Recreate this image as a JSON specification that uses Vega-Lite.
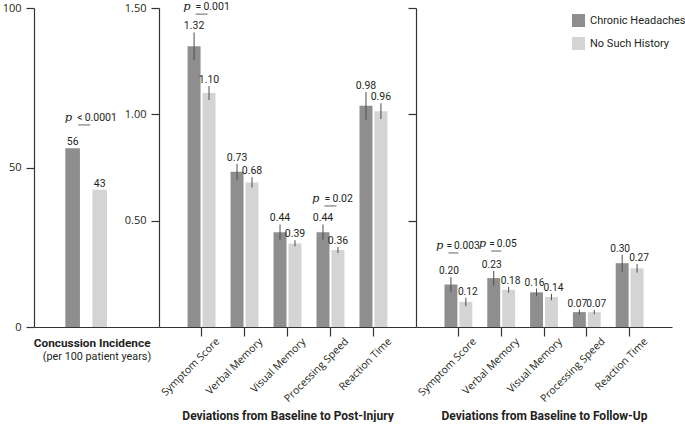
{
  "$schema": "https://vega.github.io/schema/vega-lite/v6.json",
  "bounds": "flush",
  "spacing": 0,
  "padding": {"left": 2, "top": 1, "right": 0, "bottom": 0},
  "background": "white",
  "datasets": {
    "bars": [
      {"panel": "inc", "category": "Concussion Incidence", "group": "Chronic Headaches", "value": 56, "lo": 56, "hi": 56, "label": "56"},
      {"panel": "inc", "category": "Concussion Incidence", "group": "No Such History", "value": 43, "lo": 43, "hi": 43, "label": "43"},
      {"panel": "post", "category": "Symptom Score", "group": "Chronic Headaches", "value": 1.32, "lo": 1.255, "hi": 1.385, "label": "1.32"},
      {"panel": "post", "category": "Symptom Score", "group": "No Such History", "value": 1.10, "lo": 1.067, "hi": 1.133, "label": "1.10"},
      {"panel": "post", "category": "Verbal Memory", "group": "Chronic Headaches", "value": 0.73, "lo": 0.693, "hi": 0.767, "label": "0.73"},
      {"panel": "post", "category": "Verbal Memory", "group": "No Such History", "value": 0.68, "lo": 0.656, "hi": 0.704, "label": "0.68"},
      {"panel": "post", "category": "Visual Memory", "group": "Chronic Headaches", "value": 0.445, "lo": 0.41, "hi": 0.482, "label": "0.44"},
      {"panel": "post", "category": "Visual Memory", "group": "No Such History", "value": 0.393, "lo": 0.379, "hi": 0.408, "label": "0.39"},
      {"panel": "post", "category": "Processing Speed", "group": "Chronic Headaches", "value": 0.445, "lo": 0.41, "hi": 0.482, "label": "0.44"},
      {"panel": "post", "category": "Processing Speed", "group": "No Such History", "value": 0.362, "lo": 0.348, "hi": 0.376, "label": "0.36"},
      {"panel": "post", "category": "Reaction Time", "group": "Chronic Headaches", "value": 1.04, "lo": 0.975, "hi": 1.105, "label": "0.98"},
      {"panel": "post", "category": "Reaction Time", "group": "No Such History", "value": 1.015, "lo": 0.978, "hi": 1.052, "label": "0.96"},
      {"panel": "follow", "category": "Symptom Score", "group": "Chronic Headaches", "value": 0.20, "lo": 0.165, "hi": 0.235, "label": "0.20"},
      {"panel": "follow", "category": "Symptom Score", "group": "No Such History", "value": 0.118, "lo": 0.098, "hi": 0.138, "label": "0.12"},
      {"panel": "follow", "category": "Verbal Memory", "group": "Chronic Headaches", "value": 0.23, "lo": 0.195, "hi": 0.265, "label": "0.23"},
      {"panel": "follow", "category": "Verbal Memory", "group": "No Such History", "value": 0.175, "lo": 0.161, "hi": 0.189, "label": "0.18"},
      {"panel": "follow", "category": "Visual Memory", "group": "Chronic Headaches", "value": 0.163, "lo": 0.145, "hi": 0.181, "label": "0.16"},
      {"panel": "follow", "category": "Visual Memory", "group": "No Such History", "value": 0.141, "lo": 0.126, "hi": 0.156, "label": "0.14"},
      {"panel": "follow", "category": "Processing Speed", "group": "Chronic Headaches", "value": 0.07, "lo": 0.058, "hi": 0.082, "label": "0.07"},
      {"panel": "follow", "category": "Processing Speed", "group": "No Such History", "value": 0.07, "lo": 0.06, "hi": 0.08, "label": "0.07"},
      {"panel": "follow", "category": "Reaction Time", "group": "Chronic Headaches", "value": 0.30, "lo": 0.26, "hi": 0.34, "label": "0.30"},
      {"panel": "follow", "category": "Reaction Time", "group": "No Such History", "value": 0.276, "lo": 0.256, "hi": 0.296, "label": "0.27"}
    ],
    "pvals": [
      {"panel": "inc", "category": "Concussion Incidence", "rest": "<\u20090.0001", "y": 64.6},
      {"panel": "post", "category": "Symptom Score", "rest": "=\u20090.001", "y": 1.49},
      {"panel": "post", "category": "Processing Speed", "rest": "=\u20090.02", "y": 0.588},
      {"panel": "follow", "category": "Symptom Score", "rest": "=\u20090.003", "y": 0.367},
      {"panel": "follow", "category": "Verbal Memory", "rest": "=\u20090.05", "y": 0.376}
    ]
  },
  "hconcat": [
    {
      "width": 125,
      "height": 319,
      "layer": [
        {
          "data": {"name": "bars"},
          "transform": [{"filter": "datum.panel === 'inc'"}],
          "mark": {"type": "bar"},
          "encoding": {
            "x": {"field": "category", "type": "nominal", "scale": {"paddingInner": 0, "paddingOuter": 1.0625, "align": 0.376},
                  "axis": {"title": "(per 100 patient years)", "ticks": false, "labelAngle": 0, "labelFont": "Roboto", "labelFontWeight": "bold", "labelFontSize": 11.8, "labelPadding": 10, "labelOffset": 6, "titleFont": "Roboto", "titleFontWeight": "normal", "titleFontSize": 10.8, "titlePadding": 2}},
            "xOffset": {"field": "group", "type": "nominal", "scale": {"paddingInner": 0.46, "paddingOuter": 0}},
            "y": {"field": "value", "type": "quantitative", "scale": {"domain": [0, 100], "nice": false},
                  "axis": {"title": null, "values": [0, 50, 100], "tickSize": 8, "labelPadding": 5}},
            "color": {"field": "group", "type": "nominal", "scale": {"domain": ["Chronic Headaches", "No Such History"], "range": ["#8e8e8e", "#d4d4d4"]}, "legend": null}
          }
        },
        {
          "data": {"name": "bars"},
          "transform": [{"filter": "datum.panel === 'inc'"}],
          "mark": {"type": "text", "baseline": "alphabetic", "dy": -3, "fontSize": 10.5},
          "encoding": {
            "x": {"field": "category", "type": "nominal"},
            "xOffset": {"field": "group", "type": "nominal"},
            "y": {"field": "hi", "type": "quantitative"},
            "text": {"field": "label"}
          }
        },
        {
          "data": {"name": "pvals"},
          "transform": [{"filter": "datum.panel === 'inc'"}],
          "layer": [
            {"mark": {"type": "text", "text": "p", "font": "DejaVu Serif", "fontStyle": "italic", "fontSize": 11.5, "align": "right", "baseline": "alphabetic", "dx": -14},
             "encoding": {"x": {"field": "category", "type": "nominal"}, "y": {"field": "y", "type": "quantitative"}}},
            {"mark": {"type": "text", "align": "left", "baseline": "alphabetic", "dx": -9, "fontSize": 10.5},
             "encoding": {"x": {"field": "category", "type": "nominal"}, "y": {"field": "y", "type": "quantitative"}, "text": {"field": "rest"}}},
            {"mark": {"type": "tick", "size": 12, "thickness": 1, "color": "#231f20", "yOffset": 4, "xOffset": -2},
             "encoding": {"x": {"field": "category", "type": "nominal"}, "y": {"field": "y", "type": "quantitative"}}}
          ]
        }
      ]
    },
    {
      "width": 257,
      "height": 319,
      "layer": [
        {
          "data": {"name": "bars"},
          "transform": [{"filter": "datum.panel === 'post'"}],
          "mark": {"type": "bar"},
          "encoding": {
            "x": {"field": "category", "type": "nominal", "sort": ["Symptom Score", "Verbal Memory", "Visual Memory", "Processing Speed", "Reaction Time"],
                  "scale": {"paddingInner": 0.35, "paddingOuter": 0.665},
                  "axis": {"title": "Deviations from Baseline to Post-Injury", "labelAngle": -45, "labelBaseline": "top", "labelAlign": "right", "labelOffset": 13, "labelPadding": 0, "tickSize": 9, "labelFontSize": 10.5, "titleFont": "Roboto", "titleFontWeight": "bold", "titleFontSize": 12, "titlePadding": 6}},
            "xOffset": {"field": "group", "type": "nominal", "scale": {"paddingInner": 0.133, "paddingOuter": 0}},
            "y": {"field": "value", "type": "quantitative", "scale": {"domain": [0, 1.5], "nice": false},
                  "axis": {"title": null, "values": [0.5, 1, 1.5], "format": ".2f", "tickSize": 8, "labelPadding": 5}},
            "color": {"field": "group", "type": "nominal", "scale": {"domain": ["Chronic Headaches", "No Such History"], "range": ["#8e8e8e", "#d4d4d4"]}, "legend": null}
          }
        },
        {
          "data": {"name": "bars"},
          "transform": [{"filter": "datum.panel === 'post'"}],
          "mark": {"type": "rule", "color": "#4d4d4d", "strokeWidth": 1},
          "encoding": {
            "x": {"field": "category", "type": "nominal", "sort": ["Symptom Score", "Verbal Memory", "Visual Memory", "Processing Speed", "Reaction Time"]},
            "xOffset": {"field": "group", "type": "nominal"},
            "y": {"field": "lo", "type": "quantitative"},
            "y2": {"field": "hi"}
          }
        },
        {
          "data": {"name": "bars"},
          "transform": [{"filter": "datum.panel === 'post'"}],
          "mark": {"type": "text", "baseline": "alphabetic", "dy": -3},
          "encoding": {
            "x": {"field": "category", "type": "nominal", "sort": ["Symptom Score", "Verbal Memory", "Visual Memory", "Processing Speed", "Reaction Time"]},
            "xOffset": {"field": "group", "type": "nominal"},
            "y": {"field": "hi", "type": "quantitative"},
            "text": {"field": "label"}
          }
        },
        {
          "data": {"name": "pvals"},
          "transform": [{"filter": "datum.panel === 'post'"}],
          "layer": [
            {"mark": {"type": "text", "text": "p", "font": "DejaVu Serif", "fontStyle": "italic", "fontSize": 11.5, "align": "right", "baseline": "alphabetic", "dx": -11},
             "encoding": {"x": {"field": "category", "type": "nominal", "sort": ["Symptom Score", "Verbal Memory", "Visual Memory", "Processing Speed", "Reaction Time"]}, "y": {"field": "y", "type": "quantitative"}}},
            {"mark": {"type": "text", "align": "left", "baseline": "alphabetic", "dx": -6, "fontSize": 10.5},
             "encoding": {"x": {"field": "category", "type": "nominal", "sort": ["Symptom Score", "Verbal Memory", "Visual Memory", "Processing Speed", "Reaction Time"]}, "y": {"field": "y", "type": "quantitative"}, "text": {"field": "rest"}}},
            {"mark": {"type": "tick", "size": 12, "thickness": 1, "color": "#231f20", "yOffset": 4, "xOffset": 0},
             "encoding": {"x": {"field": "category", "type": "nominal", "sort": ["Symptom Score", "Verbal Memory", "Visual Memory", "Processing Speed", "Reaction Time"]}, "y": {"field": "y", "type": "quantitative"}}}
          ]
        }
      ]
    },
    {
      "width": 256,
      "height": 319,
      "layer": [
        {
          "data": {"name": "bars"},
          "transform": [{"filter": "datum.panel === 'follow'"}],
          "mark": {"type": "bar"},
          "encoding": {
            "x": {"field": "category", "type": "nominal", "sort": ["Symptom Score", "Verbal Memory", "Visual Memory", "Processing Speed", "Reaction Time"],
                  "scale": {"paddingInner": 0.35, "paddingOuter": 0.665},
                  "axis": {"title": "Deviations from Baseline to Follow-Up", "labelAngle": -45, "labelBaseline": "top", "labelAlign": "right", "labelOffset": 13, "labelPadding": 0, "tickSize": 9, "labelFontSize": 10.5, "titleFont": "Roboto", "titleFontWeight": "bold", "titleFontSize": 12, "titlePadding": 6}},
            "xOffset": {"field": "group", "type": "nominal", "scale": {"paddingInner": 0.133, "paddingOuter": 0}},
            "y": {"field": "value", "type": "quantitative", "scale": {"domain": [0, 1.5], "nice": false},
                  "axis": {"title": null, "values": [0.5, 1, 1.5], "labels": false, "tickSize": 8}},
            "color": {"field": "group", "type": "nominal", "scale": {"domain": ["Chronic Headaches", "No Such History"], "range": ["#8e8e8e", "#d4d4d4"]},
                      "legend": {"title": null, "orient": "none", "legendX": 156, "legendY": 6, "symbolType": "square", "symbolSize": 169, "symbolStrokeWidth": 0, "labelFontSize": 11, "labelFont": "Roboto", "labelColor": "#231f20", "rowPadding": 10, "labelOffset": 5}}
          }
        },
        {
          "data": {"name": "bars"},
          "transform": [{"filter": "datum.panel === 'follow'"}],
          "mark": {"type": "rule", "color": "#4d4d4d", "strokeWidth": 1},
          "encoding": {
            "x": {"field": "category", "type": "nominal", "sort": ["Symptom Score", "Verbal Memory", "Visual Memory", "Processing Speed", "Reaction Time"]},
            "xOffset": {"field": "group", "type": "nominal"},
            "y": {"field": "lo", "type": "quantitative"},
            "y2": {"field": "hi"}
          }
        },
        {
          "data": {"name": "bars"},
          "transform": [{"filter": "datum.panel === 'follow' && datum.group === 'Chronic Headaches'"}],
          "mark": {"type": "text", "baseline": "alphabetic", "dy": -3, "dx": -2, "fontSize": 10.2},
          "encoding": {
            "x": {"field": "category", "type": "nominal", "sort": ["Symptom Score", "Verbal Memory", "Visual Memory", "Processing Speed", "Reaction Time"]},
            "xOffset": {"field": "group", "type": "nominal"},
            "y": {"field": "hi", "type": "quantitative"},
            "text": {"field": "label"}
          }
        },
        {
          "data": {"name": "bars"},
          "transform": [{"filter": "datum.panel === 'follow' && datum.group === 'No Such History'"}],
          "mark": {"type": "text", "baseline": "alphabetic", "dy": -3, "dx": 2, "fontSize": 10.2},
          "encoding": {
            "x": {"field": "category", "type": "nominal", "sort": ["Symptom Score", "Verbal Memory", "Visual Memory", "Processing Speed", "Reaction Time"]},
            "xOffset": {"field": "group", "type": "nominal"},
            "y": {"field": "hi", "type": "quantitative"},
            "text": {"field": "label"}
          }
        },
        {
          "data": {"name": "pvals"},
          "transform": [{"filter": "datum.panel === 'follow'"}],
          "layer": [
            {"mark": {"type": "text", "text": "p", "font": "DejaVu Serif", "fontStyle": "italic", "fontSize": 11.5, "align": "right", "baseline": "alphabetic", "dx": -15},
             "encoding": {"x": {"field": "category", "type": "nominal", "sort": ["Symptom Score", "Verbal Memory", "Visual Memory", "Processing Speed", "Reaction Time"]}, "y": {"field": "y", "type": "quantitative"}}},
            {"mark": {"type": "text", "align": "left", "baseline": "alphabetic", "dx": -12, "fontSize": 10.2},
             "encoding": {"x": {"field": "category", "type": "nominal", "sort": ["Symptom Score", "Verbal Memory", "Visual Memory", "Processing Speed", "Reaction Time"]}, "y": {"field": "y", "type": "quantitative"}, "text": {"field": "rest"}}},
            {"mark": {"type": "tick", "size": 10, "thickness": 1, "color": "#231f20", "yOffset": 4, "xOffset": -5},
             "encoding": {"x": {"field": "category", "type": "nominal", "sort": ["Symptom Score", "Verbal Memory", "Visual Memory", "Processing Speed", "Reaction Time"]}, "y": {"field": "y", "type": "quantitative"}}}
          ]
        }
      ]
    }
  ],
  "resolve": {"scale": {"x": "independent", "y": "independent", "xOffset": "independent"}, "legend": {"color": "independent"}},
  "config": {
    "view": {"stroke": null},
    "axis": {"grid": false, "domainColor": "#333333", "tickColor": "#333333", "labelColor": "#231f20", "titleColor": "#231f20", "labelFont": "Open Sans", "titleFont": "Open Sans", "labelFontSize": 11, "domainWidth": 1.2, "tickWidth": 1.2},
    "text": {"font": "Roboto", "fontSize": 10.5, "color": "#231f20"},
    "bar": {"stroke": null}
  }
}
